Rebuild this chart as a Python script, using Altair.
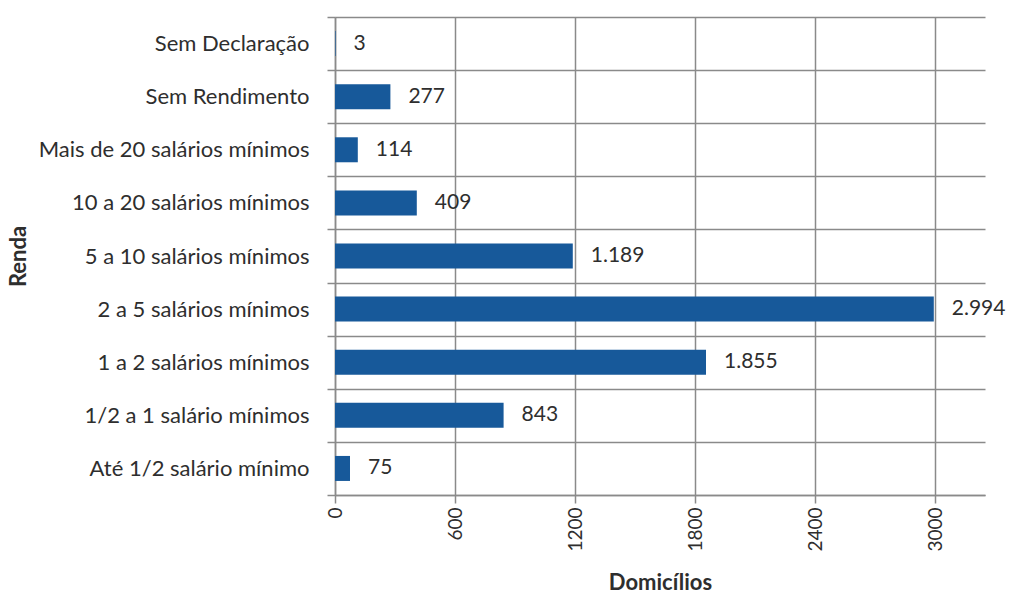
import altair as alt
import pandas as pd

categories = [
    "Sem Declaração",
    "Sem Rendimento",
    "Mais de 20 salários mínimos",
    "10 a 20 salários mínimos",
    "5 a 10 salários mínimos",
    "2 a 5 salários mínimos",
    "1 a 2 salários mínimos",
    "1/2 a 1 salário mínimos",
    "Até 1/2 salário mínimo",
]
values = [3, 277, 114, 409, 1189, 2994, 1855, 843, 75]
x_ticks = [0, 600, 1200, 1800, 2400, 3000]

labels = [f"{v:,}".replace(",", ".") for v in values]
df = pd.DataFrame({"cat": categories, "val": values, "lab": labels})

FONT = "Lato"
GRID = "#8a8a8a"
TXT = "#2e2e2e"

y_enc = alt.Y(
    "cat:N",
    sort=categories,
    scale=alt.Scale(paddingInner=0, paddingOuter=0),
    axis=alt.Axis(
        title="Renda",
        titleFont=FONT,
        titleFontSize=22,
        titleFontWeight="bold",
        titleColor=TXT,
        titleAngle=270,
        titleX=-317,
        titleY=239,
        titleAlign="center",
        titleBaseline="middle",
        labelFont=FONT,
        labelFontSize=22,
        labelColor=TXT,
        labelPadding=18,
        labelLimit=400,
        tickBand="extent",
        ticks=True,
        tickSize=8,
        tickColor=GRID,
        tickWidth=1.5,
        grid=True,
        gridColor=GRID,
        gridWidth=1.5,
        gridOpacity=1,
        domainColor=GRID,
        domainWidth=1.5,
    ),
)

x_enc = alt.X(
    "val:Q",
    scale=alt.Scale(domain=[0, 3250], nice=False, zero=True),
    axis=alt.Axis(
        title="Domicílios",
        titleFont=FONT,
        titleFontSize=22,
        titleFontWeight="bold",
        titleColor=TXT,
        titleY=87,
        titleBaseline="middle",
        values=x_ticks,
        format="d",
        labelAngle=270,
        labelFont=FONT,
        labelFontSize=19,
        labelColor=TXT,
        labelPadding=4,
        tickSize=8,
        tickColor=GRID,
        tickWidth=1.5,
        grid=True,
        gridColor=GRID,
        gridWidth=1.5,
        gridOpacity=1,
        domainColor=GRID,
        domainWidth=1.5,
    ),
)

bars = alt.Chart(df).mark_bar(color="#17599a", size=25).encode(x=x_enc, y=y_enc)

text = alt.Chart(df).mark_text(
    align="left", baseline="middle", dx=18, font=FONT, fontSize=21, color=TXT
).encode(x="val:Q", y=alt.Y("cat:N", sort=categories), text="lab:N")

chart = (
    alt.layer(bars, text)
    .properties(
        width=650,
        height=478,
        autosize=alt.AutoSizeParams(type="none"),
        padding={"left": 335, "top": 17, "right": 31, "bottom": 99},
        background="white",
    )
    .configure_view(stroke=None)
)

chart.save("out.html", embed_options={"renderer": "svg", "actions": False})
